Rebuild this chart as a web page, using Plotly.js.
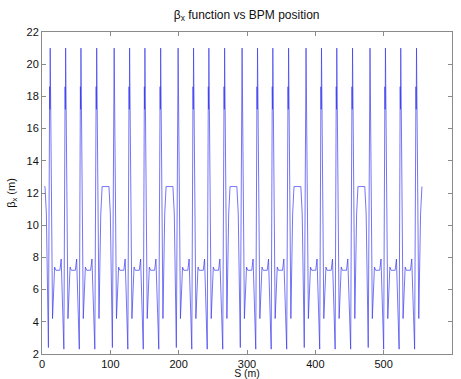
<!DOCTYPE html>
<html>
<head>
<meta charset="utf-8">
<script src="https://cdn.plot.ly/plotly-3.0.1.min.js"></script>
<style>html,body{margin:0;padding:0;background:#fff;}#chart{width:461px;height:379px;}</style>
</head>
<body>
<div id="chart"></div>
<script>
// Superperiod 1
const s1 = [3.6,4.4,6.4,9.4,11.2,11.6,12.0,15.4,18.5,20.3,26.2,28.1,30.5,32.0,33.8,34.2,34.6,38.0,41.1,42.9,48.8,50.7,53.1,54.6,56.2,56.6,57.0,60.4,63.5,65.3,71.2,73.1,75.7,77.3,79.25,79.65,80.05,83.4,86.0];
const b1 = [12.4,12.4,10.7,2.4,18.6,17.2,21.0,4.2,7.4,7.2,7.2,7.9,4.4,2.3,18.6,17.2,21.0,4.2,7.4,7.2,7.2,7.9,4.4,2.3,18.6,17.2,21.0,4.2,7.4,7.2,7.2,7.9,4.4,2.3,18.6,17.2,21.0,4.2,10.7];
// Superperiod 2
const s2 = [88.0,98.0,100.0,103.0,104.8,105.2,105.6,109.0,112.1,113.9,119.8,121.7,124.1,125.6,127.4,127.8,128.2,131.6,134.7,136.5,142.4,144.3,146.7,148.2,149.8,150.2,150.6,154.0,157.1,158.9,164.8,166.7,169.3,170.9,172.85,173.25,173.65,177.0,179.6];
const b2 = [12.4,12.4,10.7,2.4,18.6,17.2,21.0,4.2,7.4,7.2,7.2,7.9,4.4,2.3,18.6,17.2,21.0,4.2,7.4,7.2,7.2,7.9,4.4,2.3,18.6,17.2,21.0,4.2,7.4,7.2,7.2,7.9,4.4,2.3,18.6,17.2,21.0,4.2,10.7];
// Superperiod 3
const s3 = [181.6,191.6,193.6,196.6,198.4,198.8,199.2,202.6,205.7,207.5,213.4,215.3,217.7,219.2,221.0,221.4,221.8,225.2,228.3,230.1,236.0,237.9,240.3,241.8,243.4,243.8,244.2,247.6,250.7,252.5,258.4,260.3,262.9,264.5,266.45,266.85,267.25,270.6,273.2];
const b3 = [12.4,12.4,10.7,2.4,18.6,17.2,21.0,4.2,7.4,7.2,7.2,7.9,4.4,2.3,18.6,17.2,21.0,4.2,7.4,7.2,7.2,7.9,4.4,2.3,18.6,17.2,21.0,4.2,7.4,7.2,7.2,7.9,4.4,2.3,18.6,17.2,21.0,4.2,10.7];
// Superperiod 4
const s4 = [275.2,285.2,287.2,290.2,292.0,292.4,292.8,296.2,299.3,301.1,307.0,308.9,311.3,312.8,314.6,315.0,315.4,318.8,321.9,323.7,329.6,331.5,333.9,335.4,337.0,337.4,337.8,341.2,344.3,346.1,352.0,353.9,356.5,358.1,360.05,360.45,360.85,364.2,366.8];
const b4 = [12.4,12.4,10.7,2.4,18.6,17.2,21.0,4.2,7.4,7.2,7.2,7.9,4.4,2.3,18.6,17.2,21.0,4.2,7.4,7.2,7.2,7.9,4.4,2.3,18.6,17.2,21.0,4.2,7.4,7.2,7.2,7.9,4.4,2.3,18.6,17.2,21.0,4.2,10.7];
// Superperiod 5
const s5 = [368.8,378.8,380.8,383.8,385.6,386.0,386.4,389.8,392.9,394.7,400.6,402.5,404.9,406.4,408.2,408.6,409.0,412.4,415.5,417.3,423.2,425.1,427.5,429.0,430.6,431.0,431.4,434.8,437.9,439.7,445.6,447.5,450.1,451.7,453.65,454.05,454.45,457.8,460.4];
const b5 = [12.4,12.4,10.7,2.4,18.6,17.2,21.0,4.2,7.4,7.2,7.2,7.9,4.4,2.3,18.6,17.2,21.0,4.2,7.4,7.2,7.2,7.9,4.4,2.3,18.6,17.2,21.0,4.2,7.4,7.2,7.2,7.9,4.4,2.3,18.6,17.2,21.0,4.2,10.7];
// Superperiod 6
const s6 = [462.4,472.4,474.4,477.4,479.2,479.6,480.0,483.4,486.5,488.3,494.2,496.1,498.5,500.0,501.8,502.2,502.6,506.0,509.1,510.9,516.8,518.7,521.1,522.6,524.2,524.6,525.0,528.4,531.5,533.3,539.2,541.1,543.7,545.3,547.25,547.65,548.05,551.4,554.0,556.0];
const b6 = [12.4,12.4,10.7,2.4,18.6,17.2,21.0,4.2,7.4,7.2,7.2,7.9,4.4,2.3,18.6,17.2,21.0,4.2,7.4,7.2,7.2,7.9,4.4,2.3,18.6,17.2,21.0,4.2,7.4,7.2,7.2,7.9,4.4,2.3,18.6,17.2,21.0,4.2,10.7,12.4];

const xTicks = [0,100,200,300,400,500,600];
const yTicks = [2,4,6,8,10,12,14,16,18,20,22];

const S = [].concat(s1,s2,s3,s4,s5,s6);
const BETA = [].concat(b1,b2,b3,b4,b5,b6);

const fam = 'Liberation Sans, Arial, Helvetica, sans-serif';
const font = {family: fam, size: 11, color: '#111'};
const axisCommon = {
  showline: true, linecolor: '#8a8a8a', linewidth: 1,
  mirror: 'ticks', ticks: 'inside', ticklen: 4, tickcolor: '#8a8a8a', tickwidth: 1,
  showgrid: false, zeroline: false, tickfont: font
};

Plotly.newPlot('chart', [{
  x: S, y: BETA, type: 'scatter', mode: 'lines',
  line: {color: '#3a3aee', width: 0.7}, hoverinfo: 'skip'
}], {
  width: 461, height: 379,
  margin: {l: 42, r: 9, t: 32, b: 25},
  paper_bgcolor: '#fff', plot_bgcolor: '#fff',
  showlegend: false,
  title: {text: 'β<sub>x</sub> function vs BPM position', font: {family: fam, size: 12, color: '#111'}, x: 0.535, xanchor: 'center', y: 0.962, yanchor: 'middle'},
  xaxis: Object.assign({}, axisCommon, {range: [0,600], tickvals: xTicks, ticktext: xTicks.map(String),
    title: {text: 'S (m)', font: {family: fam, size: 10.5, color: '#111'}, standoff: 0}}),
  yaxis: Object.assign({}, axisCommon, {range: [2,22], tickvals: yTicks, ticktext: yTicks.map(String),
    title: {text: 'β<sub>x</sub> (m)', font: font, standoff: 8}})
}, {staticPlot: true});
</script>
</body>
</html>
